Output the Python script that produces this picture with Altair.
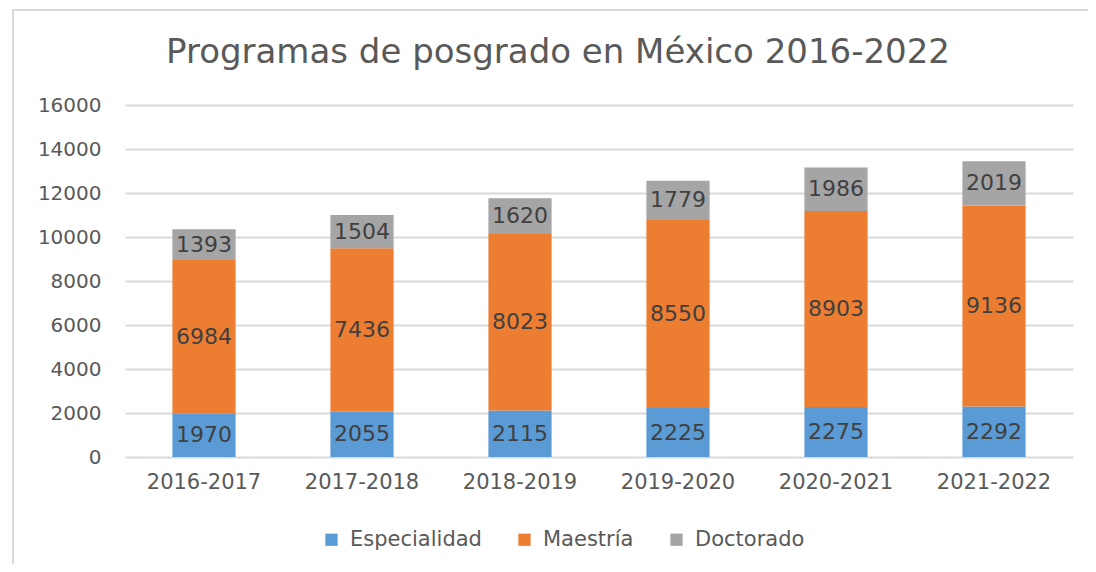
import altair as alt
import pandas as pd

periodos = ["2016-2017", "2017-2018", "2018-2019", "2019-2020", "2020-2021", "2021-2022"]
especialidad = [1970, 2055, 2115, 2225, 2275, 2292]
maestria = [6984, 7436, 8023, 8550, 8903, 9136]
doctorado = [1393, 1504, 1620, 1779, 1986, 2019]
series = ["Especialidad", "Maestría", "Doctorado"]
colores = ["#5B9BD5", "#ED7D31", "#A5A5A5"]
y_ticks = [0, 2000, 4000, 6000, 8000, 10000, 12000, 14000, 16000]
titulo = "Programas de posgrado en México 2016-2022"

rows = []
for i, p in enumerate(periodos):
    for k, (s, vals) in enumerate(zip(series, [especialidad, maestria, doctorado])):
        rows.append({"periodo": p, "serie": s, "valor": vals[i], "orden": k})
df = pd.DataFrame(rows)

FONT = "DejaVu Sans"
W, H = 948, 352

base = alt.Chart(df).transform_stack(
    stack="valor", groupby=["periodo"], as_=["y0", "y1"], sort=[alt.SortField("orden")]
).transform_calculate(mid="(datum.y0 + datum.y1) / 2")

x_enc = alt.X("periodo:N", sort=periodos, title=None,
              scale=alt.Scale(paddingInner=0.6, paddingOuter=0.3),
              axis=alt.Axis(labelAngle=0, labelFontSize=21, labelColor="#595959",
                            labelFont=FONT, labelPadding=14, ticks=False, domain=False, grid=False))
y_scale = alt.Scale(domain=[0, 16000], nice=False)

bars = base.mark_bar().encode(
    x=x_enc,
    y=alt.Y("y0:Q", scale=y_scale, title=None,
            axis=alt.Axis(values=y_ticks, format="d", labelFontSize=20, labelColor="#595959",
                          labelFont=FONT, labelPadding=24, ticks=False, domain=False, grid=True,
                          gridColor="#D9D9D9", gridWidth=2)),
    y2="y1:Q",
    color=alt.Color("serie:N", sort=series,
                    scale=alt.Scale(domain=series, range=colores),
                    legend=alt.Legend(title=None, orient="none", direction="horizontal",
                                      legendX=196, legendY=424, symbolType="square",
                                      symbolSize=150, symbolStrokeWidth=0, labelFontSize=21,
                                      labelFont=FONT, labelColor="#595959", labelOffset=8,
                                      columnPadding=32)),
    order=alt.Order("orden:Q"),
)

labels = base.mark_text(fontSize=22, font=FONT, color="#404040", baseline="middle").encode(
    x=alt.X("periodo:N", sort=periodos),
    y=alt.Y("mid:Q", scale=y_scale),
    text=alt.Text("valor:Q", format="d"),
)

title_df = pd.DataFrame({"t": [titulo]})
title_mark = alt.Chart(title_df).mark_text(
    fontSize=34, font=FONT, color="#595959", align="center", baseline="alphabetic"
).encode(text="t:N", x=alt.value(433), y=alt.value(-42))

frame_top = alt.Chart(title_df).mark_rule(color="#D9D9D9", strokeWidth=2).encode(
    x=alt.value(-113), x2=alt.value(W + 200), y=alt.value(-95))
frame_left = alt.Chart(title_df).mark_rule(color="#D9D9D9", strokeWidth=2).encode(
    x=alt.value(-112), y=alt.value(-95), y2=alt.value(H + 300))

chart = alt.layer(frame_top, frame_left, title_mark, bars, labels).properties(
    width=W, height=H,
    autosize=alt.AutoSizeParams(type="none"),
    padding={"left": 117, "top": 97, "right": 15, "bottom": 107},
).configure_view(stroke=None)

chart.save("out.html", embed_options={"renderer": "svg", "actions": False})
